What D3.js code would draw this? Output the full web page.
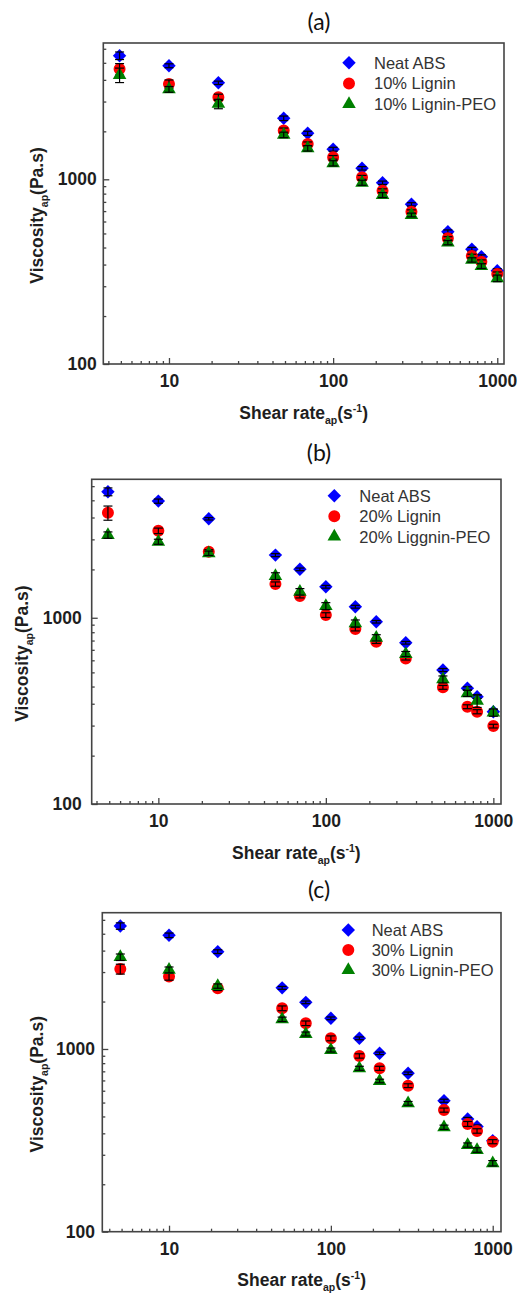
<!DOCTYPE html>
<html lang="en">
<head>
<meta charset="utf-8">
<title>Viscosity vs shear rate</title>
<script src="https://d3js.org/d3.v7.min.js"></script>
<style>
  body { margin: 0; background: #fff; }
  .tick text { font: bold 17.5px "Liberation Sans", Arial, sans-serif; fill: #1e1e1e; }
  .tick line { stroke: #444; stroke-width: 1.3; }
  .axis-title { font: bold 17.5px "Liberation Sans", Arial, sans-serif; fill: #1e1e1e; }
  .legend text { font: 16.5px "Liberation Sans", Arial, sans-serif; fill: #333; }
  .panel-title { font: 23px Lato, "Open Sans", sans-serif; fill: #111; }
</style>
</head>
<body>
<div id="chart"></div>
<script>
"use strict"

// apparent shear rate (1/s), same for all panels
const shearRate = [5, 10, 20, 50, 70, 100, 150, 200, 300, 500, 700, 800, 1000];

// (a) 10 %
const neatA = [4670, 4120, 3330, 2140, 1775, 1455, 1147, 958, 732, 520, 418, 381, 320];
const lig10 = [3950, 3280, 2780, 1835, 1553, 1315, 1025, 868, 668, 479, 384, 358, 307];
const peo10 = [3670, 3070, 2560, 1740, 1472, 1221, 958, 822, 641, 454, 366, 339, 291];
const errNeatA = [220, 100, 70, 60, 45, 35, 25, 20, 15, 12, 10, 9, 8];
const errLig10 = [280, 170, 110, 60, 40, 30, 25, 20, 15, 10, 9, 8, 8];
const errPeo10 = [330, 110, 150, 60, 50, 40, 30, 25, 15, 12, 10, 10, 12];

// (b) 20 %
const neatB = [4750, 4230, 3400, 2170, 1820, 1467, 1146, 952, 734, 524, 418, 377, 313];
const lig20 = [3660, 2930, 2260, 1517, 1308, 1034, 870, 743, 605, 423, 333, 313, 262];
const peo20 = [2780, 2560, 2220, 1674, 1379, 1155, 933, 781, 639, 467, 393, 358, 310];
const errNeatB = [230, 110, 50, 40, 30, 25, 20, 15, 12, 10, 8, 8, 8];
const errLig20 = [320, 100, 60, 40, 30, 30, 20, 15, 12, 10, 8, 8, 6];
const errPeo20 = [110, 80, 60, 70, 55, 50, 40, 30, 20, 20, 15, 28, 14];

// (c) 30 %
const neatC = [4710, 4190, 3410, 2160, 1800, 1472, 1144, 947, 736, 521, 414, 376, 315];
const lig30 = [2740, 2490, 2150, 1670, 1383, 1144, 916, 784, 630, 463, 389, 356, 311];
const peo30 = [3180, 2710, 2210, 1454, 1208, 987, 784, 668, 504, 373, 298, 280, 237];
const errNeatC = [190, 120, 80, 40, 30, 25, 20, 15, 12, 10, 8, 8, 8];
const errLig30 = [170, 110, 60, 50, 40, 35, 25, 20, 15, 12, 12, 10, 8];
const errPeo30 = [130, 100, 60, 40, 30, 25, 20, 15, 12, 10, 8, 8, 8];

const labelsA = ["Neat ABS", "10% Lignin", "10% Lignin-PEO"];
const labelsB = ["Neat ABS", "20% Lignin", "20% Liggnin-PEO"];
const labelsC = ["Neat ABS", "30% Lignin", "30% Lignin-PEO"];

const xTicks = [10, 100, 1000];
const yTicks = [100, 1000];

const colors = ["#0000ff", "#ff0000", "#008000"];
const shapes = [d3.symbolSquare, d3.symbolCircle, d3.symbolTriangle];
const sizes = [90, 113, 80];
const rotation = [45, 0, 0];

// layout of the three stacked panels
const panels = [
  { title: "(a)", titleY: 30, labels: labelsA, series: [neatA, lig10, peo10], errors: [errNeatA, errLig10, errPeo10],
    left: 103.3, right: 504, top: 43, bottom: 364, xDomain: [3.98, 1099], yDomain: [100, 5470],
    yPad: 6.6, yTitleX: 42.7, xTitleY: 419, legX: 349, legY: 62.7, legDy: 20.7, legTextX: 374 },
  { title: "(b)", titleY: 461, labels: labelsB, series: [neatB, lig20, peo20], errors: [errNeatB, errLig20, errPeo20],
    left: 91.7, right: 501, top: 479.3, bottom: 804, xDomain: [4.0, 1111], yDomain: [100, 5540],
    yPad: 10, yTitleX: 28.3, xTitleY: 858.5, legX: 334.3, legY: 495.7, legDy: 20.5, legTextX: 359.3 },
  { title: "(c)", titleY: 898, labels: labelsC, series: [neatC, lig30, peo30], errors: [errNeatC, errLig30, errPeo30],
    left: 102.3, right: 501, top: 912.7, bottom: 1231.7, xDomain: [3.87, 1125], yDomain: [100, 5570],
    yPad: 7.3, yTitleX: 42.7, xTitleY: 1286, legX: 348.3, legY: 930, legDy: 20, legTextX: 371.7 }
];

// minor ticks: 10 evenly spaced per decade (Origin style)
function minorTicks(lo, hi) {
  const out = [];
  for (let k = Math.floor(Math.log10(lo)); k <= Math.ceil(Math.log10(hi)); k++) {
    const base = Math.pow(10, k);
    for (let j = 1; j <= 10; j++) {
      const v = base * (1 + 9 * j / 11);
      if (v > lo && v < hi) out.push(v);
    }
  }
  return out;
}

const svg = d3.select("#chart").append("svg")
  .attr("width", 517).attr("height", 1299);

panels.forEach(p => {
  const x = d3.scaleLog().domain(p.xDomain).range([p.left, p.right]);
  const y = d3.scaleLog().domain(p.yDomain).range([p.bottom, p.top]);
  const g = svg.append("g");

  // minor ticks
  g.append("g").attr("transform", `translate(0,${p.bottom})`)
    .call(d3.axisBottom(x).tickValues(minorTicks(...p.xDomain)).tickSize(-3).tickFormat(""))
    .call(a => a.select(".domain").remove());
  g.append("g").attr("transform", `translate(${p.left},0)`)
    .call(d3.axisLeft(y).tickValues(minorTicks(...p.yDomain)).tickSize(-3).tickFormat(""))
    .call(a => a.select(".domain").remove());

  // major ticks + labels
  g.append("g").attr("transform", `translate(0,${p.bottom})`)
    .call(d3.axisBottom(x).tickValues(xTicks).tickSize(-6).tickPadding(11).tickFormat(d3.format("d")))
    .call(a => a.select(".domain").remove());
  g.append("g").attr("transform", `translate(${p.left},0)`)
    .call(d3.axisLeft(y).tickValues(yTicks).tickSize(-6).tickPadding(p.yPad).tickFormat(d3.format("d")))
    .call(a => a.select(".domain").remove());

  // frame
  g.append("rect")
    .attr("x", p.left).attr("y", p.top)
    .attr("width", p.right - p.left).attr("height", p.bottom - p.top)
    .attr("fill", "none").attr("stroke", "#444").attr("stroke-width", 1.6);

  // data: markers then error bars, series by series
  p.series.forEach((vals, s) => {
    const pts = shearRate.map((r, i) => ({ r: r, v: vals[i], e: p.errors[s][i] }));
    const sg = g.append("g");
    sg.selectAll("path.mark").data(pts).enter().append("path")
      .attr("class", "mark")
      .attr("d", d3.symbol().type(shapes[s]).size(sizes[s]))
      .attr("transform", d => `translate(${x(d.r)},${y(d.v)}) rotate(${rotation[s]})`)
      .attr("fill", colors[s]);

    const eb = sg.selectAll("g.err").data(pts).enter().append("g").attr("class", "err")
      .attr("stroke", "#000").attr("stroke-width", 1.2);
    eb.append("line")
      .attr("x1", d => x(d.r)).attr("x2", d => x(d.r))
      .attr("y1", d => y(d.v + d.e)).attr("y2", d => y(d.v - d.e));
    eb.append("line")
      .attr("x1", d => x(d.r) - 4.5).attr("x2", d => x(d.r) + 4.5)
      .attr("y1", d => y(d.v + d.e)).attr("y2", d => y(d.v + d.e));
    eb.append("line")
      .attr("x1", d => x(d.r) - 4.5).attr("x2", d => x(d.r) + 4.5)
      .attr("y1", d => y(d.v - d.e)).attr("y2", d => y(d.v - d.e));
  });

  // legend
  const leg = g.append("g").attr("class", "legend");
  p.labels.forEach((lab, s) => {
    const ly = p.legY + s * p.legDy;
    leg.append("path")
      .attr("d", d3.symbol().type(shapes[s]).size(sizes[s]))
      .attr("transform", `translate(${p.legX},${ly}) rotate(${rotation[s]})`)
      .attr("fill", colors[s]);
    leg.append("text").attr("x", p.legTextX).attr("y", ly).attr("dy", "0.36em").text(lab);
  });

  // titles
  g.append("text").attr("class", "panel-title")
    .attr("x", 319).attr("y", p.titleY).attr("text-anchor", "middle").text(p.title);

  const xt = g.append("text").attr("class", "axis-title")
    .attr("x", (p.left + p.right) / 2).attr("y", p.xTitleY).attr("text-anchor", "middle");
  xt.append("tspan").text("Shear rate");
  xt.append("tspan").attr("dy", 5).attr("font-size", "10.5px").text("ap");
  xt.append("tspan").attr("dy", -5).text("(s");
  xt.append("tspan").attr("dy", -7).attr("font-size", "10.5px").text("-1");
  xt.append("tspan").attr("dy", 7).text(")");

  const yc = (p.top + p.bottom) / 2 + 12;
  const yt = g.append("text").attr("class", "axis-title")
    .attr("transform", `translate(${p.yTitleX},${yc}) rotate(-90)`)
    .attr("text-anchor", "middle");
  yt.append("tspan").text("Viscosity");
  yt.append("tspan").attr("dy", 5).attr("font-size", "10.5px").text("ap");
  yt.append("tspan").attr("dy", -5).text("(Pa.s)");
});
</script>
</body>
</html>
